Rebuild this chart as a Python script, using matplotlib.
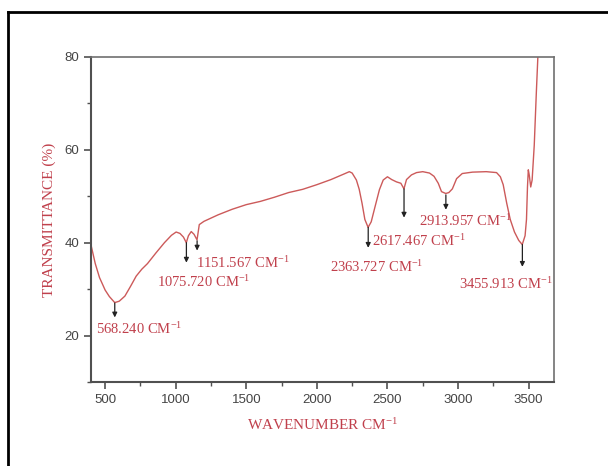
import matplotlib
matplotlib.use("Agg")
import matplotlib.pyplot as plt
from matplotlib.lines import Line2D
from matplotlib.ticker import MultipleLocator

# ---- data ----
wavenumber = [400, 430, 460, 500, 530, 568, 600, 640, 680, 720, 760, 800, 860, 920,
              970, 1003, 1030, 1055, 1075, 1090, 1110, 1130, 1151, 1167, 1200, 1300,
              1400, 1500, 1600, 1700, 1800, 1900, 2000, 2100, 2200, 2230, 2250, 2280,
              2300, 2320, 2340, 2363, 2385, 2410, 2443, 2470, 2500, 2530, 2564, 2595,
              2617, 2635, 2670, 2706, 2750, 2798, 2830, 2860, 2883, 2913, 2935, 2960,
              2990, 3030, 3103, 3200, 3273, 3300, 3320, 3345, 3370, 3400, 3430, 3455,
              3475, 3485, 3492, 3498, 3505, 3515, 3525, 3540, 3555, 3567]
transmittance = [39.5, 35.5, 32.5, 29.8, 28.4, 27.1, 27.4, 28.5, 30.6, 32.8, 34.3, 35.5,
                 37.8, 40.0, 41.6, 42.3, 42.0, 41.2, 40.0, 41.5, 42.4, 41.8, 40.6, 43.9,
                 44.6, 46.0, 47.2, 48.2, 48.9, 49.8, 50.8, 51.5, 52.5, 53.6, 54.9, 55.3,
                 55.0, 53.5, 51.5, 48.5, 45.0, 43.3, 44.5, 47.5, 51.4, 53.5, 54.2, 53.6,
                 53.1, 52.8, 51.6, 53.6, 54.6, 55.1, 55.3, 55.0, 54.3, 52.8, 51.0, 50.6,
                 50.8, 51.6, 53.8, 54.9, 55.2, 55.3, 55.1, 54.2, 52.5, 48.5, 45.0, 42.3,
                 40.5, 39.6, 41.5, 45.0, 52.0, 55.7, 54.5, 52.0, 53.5, 61.0, 72.5, 81.0]

peak_wn = [568.240, 1075.720, 1151.567, 2363.727, 2617.467, 2913.957, 3455.913]
peak_labels = ["568.240", "1075.720", "1151.567", "2363.727", "2617.467", "2913.957", "3455.913"]

x_ticks = [500, 1000, 1500, 2000, 2500, 3000, 3500]
y_ticks = [20, 40, 60, 80]

# ---- layout (annotation positions) ----
arrow_start = [27.0, 40.0, 40.4, 43.3, 51.6, 50.3, 39.6]
arrow_tip = [23.9, 35.7, 38.3, 38.9, 45.4, 47.1, 34.8]
text_x = [436, 869, 1145, 2096, 2394, 2727, 3004]
text_y = [21.5, 31.6, 35.7, 34.8, 40.4, 44.7, 31.2]

plt.rcParams['mathtext.fontset'] = 'custom'
plt.rcParams['mathtext.rm'] = 'Liberation Serif'
plt.rcParams['mathtext.it'] = 'Liberation Serif'

line_color = '#cc5a5a'
text_color = '#c0404c'
spine_color = '#505050'

fig = plt.figure(figsize=(6.08, 4.66), dpi=100)
ax = fig.add_axes([0.1497, 0.1803, 0.7615, 0.6974])

ax.plot(wavenumber, transmittance, color=line_color, lw=1.0)
ax.set_xlim(400, 3680)
ax.set_ylim(10, 80)

ax.set_xticks(x_ticks)
ax.set_yticks(y_ticks)
ax.xaxis.set_minor_locator(MultipleLocator(250))
ax.yaxis.set_minor_locator(MultipleLocator(10))
ax.tick_params(which='major', direction='out', length=5, width=1.2, color=spine_color,
               labelsize=9.5, labelcolor='#444444')
ax.tick_params(which='minor', direction='out', length=3, width=1.0, color=spine_color)
for lab in ax.get_xticklabels() + ax.get_yticklabels():
    lab.set_fontfamily('Liberation Sans')

for side in ['left', 'bottom']:
    ax.spines[side].set_color(spine_color)
    ax.spines[side].set_linewidth(1.5)
for side in ['top', 'right']:
    ax.spines[side].set_color('#707070')
    ax.spines[side].set_linewidth(1.2)

for wn, lab, y0, y1, tx, ty in zip(peak_wn, peak_labels, arrow_start, arrow_tip, text_x, text_y):
    ax.annotate('', xy=(wn, y1), xytext=(wn, y0),
                arrowprops=dict(arrowstyle='-|>', color='#222222', lw=0.9,
                                mutation_scale=7, shrinkA=0, shrinkB=0))
    ax.text(tx, ty, lab + r' CM$^{\mathregular{-1}}$', color=text_color,
            fontfamily='Liberation Serif', fontsize=10.5, ha='left', va='center')

ax.set_xlabel(r'WAVENUMBER CM$^{\mathregular{-1}}$', color=text_color,
              fontfamily='Liberation Serif', fontsize=11, labelpad=8.5)
ax.set_ylabel('TRANSMITTANCE (%)', color=text_color,
              fontfamily='Liberation Serif', fontsize=11, labelpad=6)

# outer frame (top and left edges)
fig.add_artist(Line2D([0.0132, 1.0], [0.974, 0.974], color='black', lw=2.0,
                      transform=fig.transFigure))
fig.add_artist(Line2D([0.0132, 0.0132], [0.0, 0.974], color='black', lw=2.0,
                      transform=fig.transFigure))

fig.savefig('out.png', dpi=100)
